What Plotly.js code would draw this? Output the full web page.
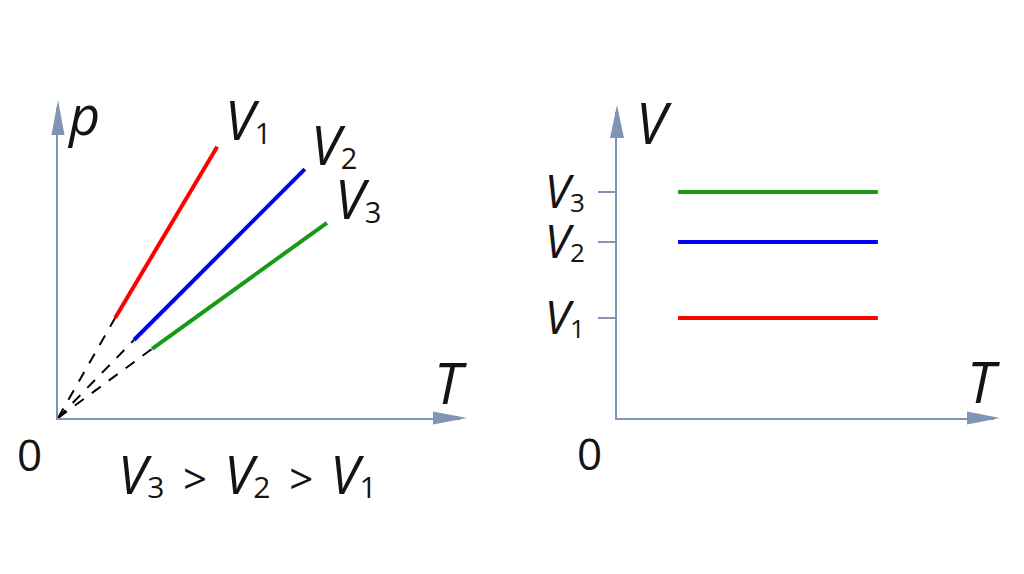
<!DOCTYPE html>
<html>
<head>
<meta charset="utf-8">
<script src="https://cdn.plot.ly/plotly-3.0.1.min.js"></script>
<style>html,body{margin:0;padding:0;background:#fff;}#chart{width:1024px;height:574px;}</style>
</head>
<body>
<div id="chart"></div>
<script>
// ---- data ----
const seriesNames = ['1', '2', '3'];            // subscripts of V
const pT_start = [1.42, 1.89, 2.34];           // p-T diagram: T where solid part starts
const pT_end   = [3.96, 6.14, 6.69];           // T where solid part ends
const p_start  = [2.50, 1.95, 1.73];           // p at start
const p_end    = [6.78, 6.22, 4.88];           // p at end
const vT_start = [1.62, 1.62, 1.62];           // V-T diagram: T start
const vT_end   = [6.92, 6.92, 6.92];           // T end
const vLevels  = [2.50, 4.40, 5.65];           // V1, V2, V3 levels
const vTickLabels = ['V1', 'V2', 'V3'];

// ---- styles ----
const colors = ['#ff0000', '#0000ff', '#179a17'];
const axisColor = '#8094b4';
const textColor = '#141414';
const fontFam = '"Open Sans", "DejaVu Sans", sans-serif';
const W = 1024, H = 574;

const L_xdom = [58 / W, 460 / W];
const L_ydom = [1 - 418 / H, 1 - 108 / H];
const R_xdom = [617 / W, 994 / W];
const R_ydom = [1 - 418 / H, 1 - 112 / H];

function vLabel(sub, subSize) {
  return '<i>V</i><span style="font-size:20px"><sub><span style="font-size:' + subSize + 'px">' + sub + '</span></sub></span>';
}
const gt = '<span style="font-size:72px"> </span><span style="font-size:42px">&gt;</span><span style="font-size:66px"> </span>';

const traces = [];
for (let i = 0; i < seriesNames.length; i++) {
  traces.push({
    x: [0, pT_start[i]], y: [0, p_start[i]], xaxis: 'x', yaxis: 'y',
    mode: 'lines', line: {color: '#000', width: 2, dash: '11px,10px'}, hoverinfo: 'skip'
  });
  traces.push({
    x: [pT_start[i], pT_end[i]], y: [p_start[i], p_end[i]], xaxis: 'x', yaxis: 'y',
    mode: 'lines', line: {color: colors[i], width: 4}, hoverinfo: 'skip'
  });
  traces.push({
    x: [vT_start[i], vT_end[i]], y: [vLevels[i], vLevels[i]], xaxis: 'x2', yaxis: 'y2',
    mode: 'lines', line: {color: colors[i], width: 4}, hoverinfo: 'skip'
  });
}

function P(px, py) { return [px / W, 1 - py / H]; }
function tri(a, b, c) {
  const A = P(a[0], a[1]), B = P(b[0], b[1]), C = P(c[0], c[1]);
  return {type: 'path', xref: 'paper', yref: 'paper',
    path: 'M' + A[0] + ',' + A[1] + ' L' + B[0] + ',' + B[1] + ' L' + C[0] + ',' + C[1] + ' Z',
    fillcolor: axisColor, line: {width: 0}, layer: 'above'};
}
const Lx0 = L_xdom[0] * W, Ly0 = (1 - L_ydom[0]) * H;
const Rx0 = R_xdom[0] * W, Ry0 = (1 - R_ydom[0]) * H;
const shapes = [
  tri([Lx0, 100], [Lx0 - 6.5, 135], [Lx0 + 6.5, 135]),
  tri([467, Ly0], [433, Ly0 - 6.5], [433, Ly0 + 6.5]),
  tri([Rx0, 105], [Rx0 - 7, 138], [Rx0 + 7, 138]),
  tri([1000, Ry0], [967, Ry0 - 6.5], [967, Ry0 + 6.5])
];

function ann(text, px, py, size, anchor) {
  const p = P(px, py);
  return {text: text, x: p[0], y: p[1], xref: 'paper', yref: 'paper', showarrow: false,
    xanchor: anchor || 'center', yanchor: 'middle',
    font: {family: fontFam, size: size, color: textColor}};
}
const annotations = [
  ann('<i>p</i>', 83, 114, 54),
  ann('<i>T</i>', 450, 382, 56),
  ann('0', 29, 454, 44),
  ann(vLabel(seriesNames[0], 29), 223, 119, 54, 'left'),
  ann(vLabel(seriesNames[1], 29), 309, 144, 54, 'left'),
  ann(vLabel(seriesNames[2], 29), 333, 198, 54, 'left'),
  ann(vLabel(seriesNames[2], 30) + gt + vLabel(seriesNames[1], 30) + gt + vLabel(seriesNames[0], 30), 247, 466, 53),
  ann('<i>V</i>', 654, 122, 56),
  ann('<i>T</i>', 983, 381, 56),
  ann('0', 589, 453, 44)
];

const baseAxis = {showgrid: false, zeroline: false, showline: true, linecolor: axisColor, linewidth: 2,
  ticks: '', showticklabels: false, fixedrange: true};

const layout = {
  width: W, height: H, margin: {l: 0, r: 0, t: 0, b: 0},
  paper_bgcolor: '#fff', plot_bgcolor: 'rgba(0,0,0,0)', showlegend: false,
  xaxis: Object.assign({}, baseAxis, {domain: L_xdom, range: [0, 10], anchor: 'y'}),
  yaxis: Object.assign({}, baseAxis, {domain: L_ydom, range: [0, 7.75], anchor: 'x'}),
  xaxis2: Object.assign({}, baseAxis, {domain: R_xdom, range: [0, 10], anchor: 'y2'}),
  yaxis2: Object.assign({}, baseAxis, {domain: R_ydom, range: [0, 7.65], anchor: 'x2',
    ticks: 'outside', ticklen: 17, tickwidth: 2, tickcolor: axisColor, showticklabels: true,
    tickvals: vLevels, ticktext: vTickLabels.map(t => vLabel(t.slice(1), 26)),
    ticklabelstandoff: 4,
    tickfont: {family: fontFam, size: 46, color: textColor}}),
  shapes: shapes,
  annotations: annotations
};

Plotly.newPlot('chart', traces, layout, {staticPlot: true, displayModeBar: false});
</script>
</body>
</html>
